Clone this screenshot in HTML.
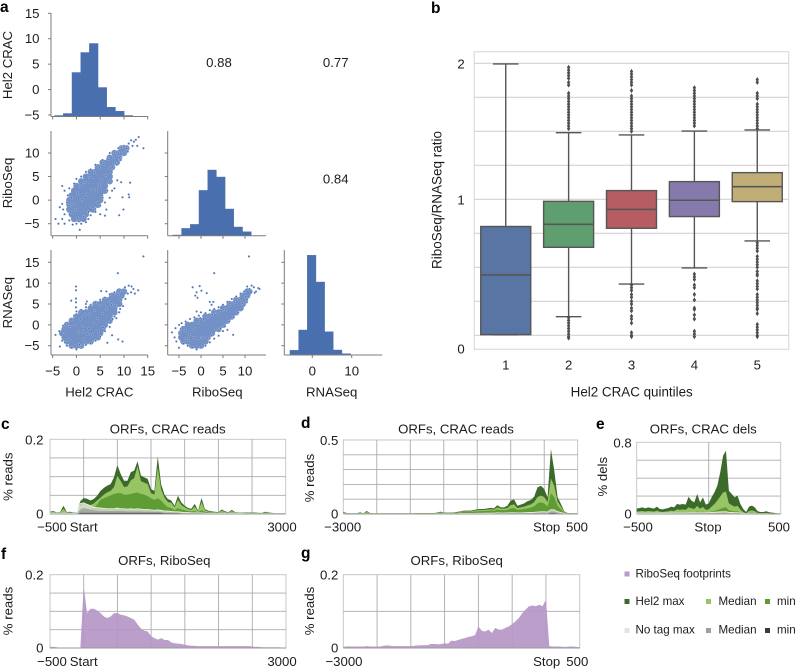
<!DOCTYPE html>
<html lang="en">
<head>
<meta charset="utf-8">
<title>Hel2 CRAC figure</title>
<style>
html,body{margin:0;padding:0;background:#fff;width:795px;height:669px;overflow:hidden}
svg{display:block;font-family:"Liberation Sans",sans-serif;fill:#1c1c1c}
text{font-size:13.2px}
.letter{font-size:15.5px;font-weight:bold;fill:#000}
</style>
</head>
<body>
<svg id="fig" width="795" height="669" viewBox="0 0 795 669" xmlns="http://www.w3.org/2000/svg">
  <rect width="795" height="669" fill="#fff"/>
  <g id="panel-a"></g>
  <g id="panel-b" style="font-size:13.4px"></g>
  <g id="panel-c"></g>
  <g id="panel-d"></g>
  <g id="panel-e"></g>
  <g id="panel-f"></g>
  <g id="panel-g"></g>
  <text class="letter" x="0" y="12">a</text>
  <text class="letter" x="431" y="13">b</text>
  <text class="letter" x="1" y="429">c</text>
  <text class="letter" x="301" y="428">d</text>
  <text class="letter" x="596" y="429">e</text>
  <text class="letter" x="1" y="559">f</text>
  <text class="letter" x="301" y="558">g</text>
  <g id="legend">
    <rect x="624.5" y="571.5" width="5" height="5" fill="#b99aca"/>
    <text x="635.5" y="574" dominant-baseline="central" style="font-size:11.6px">RiboSeq footprints</text>
    <rect x="624.5" y="599" width="5" height="5" fill="#3c6a2b"/>
    <text x="635.5" y="601.5" dominant-baseline="central" style="font-size:11.6px">Hel2 max</text>
    <rect x="706" y="599" width="5" height="5" fill="#97c566"/>
    <text x="718.5" y="601.5" dominant-baseline="central" style="font-size:11.6px">Median</text>
    <rect x="765" y="599" width="5" height="5" fill="#5f9d34"/>
    <text x="777" y="601.5" dominant-baseline="central" style="font-size:11.6px">min</text>
    <rect x="624.5" y="628" width="5" height="5" fill="#e3e3e3"/>
    <text x="635.5" y="630" dominant-baseline="central" style="font-size:11.6px">No tag max</text>
    <rect x="706" y="628" width="5" height="5" fill="#a0a0a0"/>
    <text x="718.5" y="630" dominant-baseline="central" style="font-size:11.6px">Median</text>
    <rect x="765" y="628" width="5" height="5" fill="#3a3a3a"/>
    <text x="777" y="630" dominant-baseline="central" style="font-size:11.6px">min</text>
  </g>
</svg>
<script>
/* ---------- panel a data ---------- */
const pairNames = ['Hel2 CRAC','RiboSeq','RNASeq'];
const helCounts = [10,30,440,640,730,290,93,53,10];
const riboCounts = [7,73,113,453,657,587,267,87,40];
const rnaCounts = [47,250,997,730,233,50,13];
const helBinStart = -4.6;
const helBinWidth = 1.83;
const riboBinStart = -6.4;
const riboBinWidth = 1.98;
const rnaBinStart = -5.67;
const rnaBinWidth = 2.2;
const corrHelRibo = '0.88';
const corrHelRna = '0.77';
const corrRiboRna = '0.84';
const helTicks = [-5,0,5,10,15];
const riboTicksX = [-5,0,5,10];
const rnaTicksX = [0,10];
const helTicksY = [-5,0,5,10,15];
const riboTicksY = [-5,0,5,10];
const rnaTicksY = [-5,0,5,10,15];

const coreHelRibo = [[-0.5,-4],[0.5,-4],[1.5,-4],[-1,-3],[0,-3],[1,-3],[2,-3],[-1.5,-2],[-0.5,-2],[0.5,-2],[1.5,-2],[2.5,-2],[3.5,-2],[-1.5,-1],[-0.5,-1],[0.5,-1],[1.5,-1],[2.5,-1],[3.5,-1],[4.5,-1],[-1.5,0],[-0.5,0],[0.5,0],[1.5,0],[2.5,0],[3.5,0],[4.5,0],[5,0],[-1,1],[0,1],[1,1],[2,1],[3,1],[4,1],[5,1],[-0.5,2],[0.5,2],[1.5,2],[2.5,2],[3.5,2],[4.5,2],[5.5,2],[6,2],[0,3],[1,3],[2,3],[3,3],[4,3],[5,3],[6,3],[1,4],[2,4],[3,4],[4,4],[5,4],[6,4],[7,4],[2,5],[3,5],[4,5],[5,5],[6,5],[7,5],[3,6],[4,6],[5,6],[6,6],[7,6],[4.5,7],[5.5,7],[6.5,7],[7.5,7],[5.5,8],[6.5,8],[7.5,8],[8.5,8],[7,9],[8,9],[9,9],[8,10],[9,10],[10,10],[9.5,11],[10.5,11]];
const pointsHelRibo = [[13.1,13.4],[14.1,11],[12.1,12.4],[11.5,12.7],[12.5,12.8],[11,12],[10.5,11],[11.8,11.5],[12.8,11.5],[10,11.5],[9.5,11.2],[8.8,11],[8,10.2],[9,9],[10,10],[10.8,10.3],[7,10],[6.5,8.8],[5.5,8.5],[7.5,7],[8.5,7.5],[9.3,8.5],[4,7.5],[3,6.5],[2,6],[1,5],[0,4.5],[-0.5,3.5],[-1.5,2.5],[-3,3],[-2.5,2],[-1.8,1],[-2,-0.5],[-3,-0.8],[-3.5,-1.5],[-2.8,-2],[-1.5,-1.2],[-1,0.5],[-1.2,-2.5],[-2.5,-3],[-3,-4],[-4.4,-4],[-3.8,-5],[-2.5,-5],[-1.5,-4.3],[-0.8,-5.2],[0,-5],[0.7,-6.3],[0.5,-4.5],[1,-5],[2,-4.7],[2.5,-4],[1.5,-3.5],[3,-3.2],[4,-2.5],[5,-3],[6,-3.3],[6.3,-2],[5,-1.2],[6,-0.5],[7,0.5],[7.5,2],[8,2.5],[8.6,4.2],[9.4,3.8],[11.3,3.7],[11.1,0.6],[9.7,0.6],[9.9,-2],[9,-3.2],[11,1.2],[7,4],[6.5,2],[5.5,0.5],[4.5,-0.5],[3.5,-1.5],[2.5,-2.5],[0.3,-3.8],[-0.2,-2],[-0.7,-1],[0.2,1.5],[0.8,3],[1.8,3.8],[2.8,4.8],[3.8,5.8],[4.8,6.8],[5.8,7.6],[6.8,8.6],[7.8,9],[8.8,10],[6.2,5.2],[7.2,6.8],[8.2,7.8],[3.2,2.2],[4.2,2.2],[2.2,1.2],[1.2,0.2],[5.2,4.2],[4.8,3.2]];

const coreHelRna = [[-1,-5],[0,-5],[1,-5],[-2,-4],[-1,-4],[0,-4],[1,-4],[2,-4],[3,-4],[-2.5,-3],[-1.5,-3],[-0.5,-3],[0.5,-3],[1.5,-3],[2.5,-3],[3.5,-3],[4.5,-3],[-3,-2],[-2,-2],[-1,-2],[0,-2],[1,-2],[2,-2],[3,-2],[4,-2],[5,-2],[-2.5,-1],[-1.5,-1],[-0.5,-1],[0.5,-1],[1.5,-1],[2.5,-1],[3.5,-1],[4.5,-1],[5.5,-1],[-2,0],[-1,0],[0,0],[1,0],[2,0],[3,0],[4,0],[5,0],[6,0],[-1,1],[0,1],[1,1],[2,1],[3,1],[4,1],[5,1],[6,1],[7,1],[0,2],[1,2],[2,2],[3,2],[4,2],[5,2],[6,2],[7,2],[1,3],[2,3],[3,3],[4,3],[5,3],[6,3],[7,3],[8,3],[3,4],[4,4],[5,4],[6,4],[7,4],[8,4],[4,5],[5,5],[6,5],[7,5],[8,5],[9,5],[6,6],[7,6],[8,6],[9,6],[7.5,7],[8.5,7],[9.5,7],[9,8],[10,8]];
const pointsHelRna = [[14.1,16.4],[8.7,12.4],[-0.1,9.2],[-0.1,8.3],[-0.1,6.3],[-0.1,5.4],[-0.1,4.2],[6.3,8],[-1.1,5.8],[5.2,8.1],[13,8.3],[12.3,7.5],[11.6,9.2],[10.2,9],[11,9.4],[11.5,7.8],[10.8,7.5],[12,8.6],[2,5],[2.2,5.6],[9.7,-4],[6.5,-4.3],[8.8,-3.5],[7.5,-2.5],[-4.4,-2.4],[-3.5,-5.2],[-2,-5],[-1,-5.5],[0,-5.9],[1,-5.2],[-0.3,-5],[-3,-3.8],[-3.6,-1.5],[-2.8,-0.2],[-1.8,0.2],[-1,1.2],[-0.5,2.2],[0,3.2],[1,3.6],[2,4.2],[3,4.8],[4,5.3],[5,6],[6,6.5],[7,7.3],[8,7.8],[9,8],[10,8.2],[10.3,6.2],[9.8,4.5],[9,3],[8,2],[7,-0.5],[6,-1.5],[5,-2.8],[4,-3.8],[3,-4.4],[2,-4.8],[-2.5,-2],[-1.5,-3.5],[-2.4,-4.2],[0.6,-4.8],[1.6,-3.6],[3.4,-2.4],[4.6,-1.6],[5.6,-0.6],[6.6,0.6],[7.6,1.4],[8.4,1.6],[9.2,3.8],[9.4,6],[8.8,7.2],[6.8,5.6],[5.8,5],[4.8,4.6],[3.8,3.4],[2.8,2.6],[1.8,2.4],[0.8,1.4],[-0.4,-0.2],[-1.4,-0.4],[1.4,-0.4],[2.6,-0.8],[3.6,0.4],[4.4,1.6],[5.4,2.8],[6.4,3.8],[7.4,4.8],[8.2,4.6],[0.4,-1.6],[1.4,-1.6],[2.4,-2.2]];

const coreRiboRna = [[-2,-5],[-1,-5],[0,-5],[-4,-4],[-3,-4],[-2,-4],[-1,-4],[0,-4],[1,-4],[-4.5,-3],[-3.5,-3],[-2.5,-3],[-1.5,-3],[-0.5,-3],[0.5,-3],[1.5,-3],[-4.5,-2],[-3.5,-2],[-2.5,-2],[-1.5,-2],[-0.5,-2],[0.5,-2],[1.5,-2],[2.5,-2],[-4,-1],[-3,-1],[-2,-1],[-1,-1],[0,-1],[1,-1],[2,-1],[3,-1],[4,-1],[-3,0],[-2,0],[-1,0],[0,0],[1,0],[2,0],[3,0],[4,0],[5,0],[-1,1],[0,1],[1,1],[2,1],[3,1],[4,1],[5,1],[6,1],[1,2],[2,2],[3,2],[4,2],[5,2],[6,2],[7,2],[3,3],[4,3],[5,3],[6,3],[7,3],[8,3],[5,4],[6,4],[7,4],[8,4],[9,4],[6.5,5],[7.5,5],[8.5,5],[9.5,5],[8,6],[9,6],[10,6],[9.5,7],[10.5,7],[10.5,8],[11,8]];
const pointsRiboRna = [[10.9,16.4],[3,12.4],[-1.9,9],[-0.3,9.3],[0.1,8.2],[-1.3,7],[1.3,7.6],[-1,7.8],[-0.8,6.5],[2,5.5],[2.4,4.8],[2.8,5.5],[12.5,8],[13,8.8],[12,9],[12.2,7.7],[13.3,8.6],[11.5,9.4],[11,8.6],[10.5,9.2],[-6.6,-1.8],[-5.6,-4],[-6,-3],[-5,-5.5],[-5.8,-0.8],[-5,0],[-4.4,0.4],[-3.5,0.8],[-2.5,1.4],[-1.5,1.8],[-0.5,2.2],[-1,3.2],[0,3],[1,2.8],[2,3.5],[3,3.8],[4,4.2],[5,4.8],[6,5.5],[7,6.2],[8,6.8],[9,7.5],[9.8,8],[7.3,-2.4],[6,-1.2],[5,-1.5],[4,-2.6],[3,-3.3],[2,-4.2],[1,-5],[0,-5.3],[-1,-5.9],[-2,-5.4],[-3,-5],[-4,-4.5],[-4.8,-2.2],[-4.6,-1],[-3.4,-3.2],[-2.6,-2.4],[-1.4,-1],[-0.6,0.6],[0.6,1.4],[1.6,1.8],[2.6,2.4],[3.6,2.8],[4.6,3.4],[5.6,3.6],[6.6,4.6],[7.6,5.4],[8.6,6],[9.4,5.2],[8.4,3],[7.4,1.8],[6.4,0.8],[5.4,-0.4],[4.4,-0.8],[3.4,-1],[2.4,-2.6],[1.4,-3.2],[0.4,-3],[-0.4,-3.2],[-1.6,-3],[-2.8,-3.8],[-3.6,-1.4],[-0.2,1.6],[10.4,5.4],[10.2,6.8]];

/* ---------- panel b data ---------- */
const quintiles = ['1','2','3','4','5'];
const boxQ1 = [0.005,0.647,0.787,0.873,0.983];
const boxMedian = [0.444,0.816,0.926,0.993,1.093];
const boxQ3 = [0.80,0.985,1.064,1.13,1.196];
const whiskerLow = [0.005,0.137,0.377,0.495,0.694];
const whiskerHigh = [1.995,1.49,1.473,1.502,1.51];
const boxFill = ['#5975a4','#5f9e6e','#b55d60','#857aab','#c1ae77'];
const fliers1 = [];
const fliers2 = [1.97,1.95,1.93,1.91,1.89,1.86,1.84,1.78,1.76,1.74,1.72,1.7,1.68,1.66,1.64,1.62,1.6,1.58,1.56,1.54,1.52,0.13,0.11,0.09,0.07,0.05,0.03,0.01,-0.01,-0.02];
const fliers3 = [1.94,1.92,1.9,1.88,1.86,1.84,1.8,1.76,1.74,1.72,1.7,1.68,1.66,1.64,1.62,1.6,1.58,1.56,1.54,1.52,1.5,0.37,0.35,0.33,0.3,0.28,0.25,0.23,0.2,0.18,0.14,0.12,0.09,0.02,0,-0.01];
const fliers4 = [1.82,1.8,1.78,1.76,1.74,1.72,1.7,1.68,1.66,1.64,1.62,1.6,1.58,1.56,1.54,0.45,0.43,0.41,0.37,0.35,0.3,0.26,0.2,0.19,0.15,0.12,0.03,0.01,-0.01];
const fliers5 = [1.88,1.86,1.78,1.76,1.74,1.7,1.68,1.66,1.64,1.62,1.6,1.58,1.56,1.54,1.52,0.68,0.66,0.64,0.62,0.58,0.56,0.54,0.52,0.5,0.47,0.45,0.44,0.4,0.38,0.36,0.34,0.3,0.28,0.26,0.24,0.22,0.2,0.19,0.16,0.08,0.06,0.04,0.02,0,-0.01];
const boxGridValues = [0,0.25,0.5,0.75,1,1.25,1.5,1.75,2];
const boxTickValues = [0,1,2];

/* ---------- panels c-g data (reads in thousandths) ---------- */
const cMax = [6,8,4,5,22,5,6,4,4,34,43,41,36,40,49,62,70,76,80,98,131,107,89,89,112,116,141,103,98,94,67,62,154,80,52,40,36,22,49,31,22,16,14,27,9,43,13,9,7,6,5,12,7,5,11,5,4,4,4,4,4,4,3,3,6,4,3,2,2,2,2];
const cMedian = [5,6,3,4,14,4,4,3,3,22,28,27,24,28,36,44,52,58,62,72,102,88,72,74,90,96,128,88,84,80,56,52,125,66,44,32,30,18,38,24,18,13,11,20,7,32,10,7,5,5,4,9,5,4,8,4,3,3,3,3,3,3,2,2,4,3,2,2,1,1,1];
const cMin = [3,3,2,2,6,2,2,2,2,8,10,10,12,16,26,38,42,46,50,54,56,56,52,52,54,56,58,54,52,48,42,38,42,36,26,18,16,10,16,12,10,8,7,8,5,10,6,5,4,4,3,4,3,3,4,3,2,2,2,2,2,2,2,2,2,2,1,1,1,1,1];
const cTagMax = [2,2,2,2,3,2,2,2,2,28,30,26,22,18,17,16,15,14,14,14,16,14,14,13,14,13,14,13,12,12,11,10,11,10,8,8,7,6,6,5,4,4,3,3,3,3,2,2,2,2,2,2,2,2,2,2,2,2,1,1,1,1,1,1,1,1,1,1,1,1,1];
const cTagMedian = [1,1,1,1,1,1,1,1,1,12,16,14,12,10,9,8,8,8,8,8,8,8,8,7,7,7,7,7,6,6,6,6,6,5,4,4,4,3,3,3,2,2,2,2,2,2,1,1,1,1,1,1,1,1,1,1,1,1,1,1,1,1,1,1,1,1,1,1,1,1,1];
const cTagMin = [0,0,0,0,0,0,0,0,0,3,3,3,3,3,3,3,3,3,3,3,3,3,3,3,3,3,3,3,3,3,3,3,3,3,2,2,2,2,2,1,1,1,1,1,1,1,1,1,1,1,0,0,0,0,0,0,0,0,0,0,0,0,0,0,0,0,0,0,0,0,0];

const dMax = [14,7,5,5,5,11,5,20,7,5,5,5,5,5,5,5,5,5,5,5,5,5,7,7,7,7,7,7,9,16,9,9,9,11,14,18,23,23,23,27,32,34,34,38,41,38,59,45,45,56,90,99,56,63,72,86,95,117,180,191,169,113,439,293,113,68,18,7,5,5,5];
const dMedian = [9,5,4,4,4,7,4,14,5,4,4,4,4,4,4,4,4,4,4,4,4,4,5,5,5,5,5,5,7,12,7,7,7,9,11,14,18,18,18,22,25,27,27,30,32,30,45,36,36,40,60,65,40,45,50,58,65,80,115,124,115,80,241,190,85,50,14,5,4,4,4];
const dMin = [5,3,2,2,2,4,2,9,3,2,2,2,2,2,2,2,2,2,2,2,2,2,3,3,3,3,3,3,5,9,5,5,5,7,9,11,14,14,14,16,18,20,20,22,24,22,30,26,26,28,38,40,28,30,34,38,42,52,72,79,72,50,140,115,55,32,9,3,2,2,2];
const dTagMax = [3,2,2,2,2,2,2,3,2,2,2,2,2,2,2,2,2,2,2,2,2,2,2,2,2,2,2,2,3,3,3,3,3,3,3,4,4,4,4,4,5,5,5,6,6,6,9,7,7,8,9,9,8,8,9,10,11,12,14,15,15,14,30,28,16,10,4,2,2,2,2];
const dTagMedian = [1,1,1,1,1,1,1,1,1,1,1,1,1,1,1,1,1,1,1,1,1,1,1,1,1,1,1,1,2,2,2,2,2,2,2,2,2,2,2,2,3,3,3,3,3,3,5,4,4,4,5,5,5,5,5,6,6,7,8,9,9,8,18,16,10,6,2,1,1,1,1];
const dTagMin = [0,0,0,0,0,0,0,0,0,0,0,0,0,0,0,0,0,0,0,0,0,0,0,0,0,0,0,0,1,1,1,1,1,1,1,1,1,1,1,1,1,1,1,1,1,1,2,2,2,2,2,2,2,2,2,2,2,3,3,3,3,3,6,6,3,2,1,0,0,0,0];

const eMax = [60,67,74,63,74,67,60,82,56,52,60,67,82,74,112,104,112,104,193,149,130,223,130,186,104,119,186,242,316,465,651,707,260,223,186,205,112,56,22,82,93,74,30,22,22,30,19,15,11,7,7];
const eMedian = [26,30,34,28,34,30,27,38,26,22,27,30,38,34,51,46,51,46,75,64,56,90,58,79,45,52,82,112,150,195,240,250,120,98,82,90,49,22,9,34,41,30,12,9,9,12,8,6,5,3,3];
const eMin = [10,12,14,11,14,12,10,14,10,8,10,11,14,12,18,17,18,17,24,21,20,28,21,26,18,21,28,35,45,56,70,77,42,35,29,31,18,8,4,11,14,10,5,4,4,5,3,2,2,2,2];
const eTagMax = [10,10,10,10,10,10,10,10,10,10,10,10,12,12,12,12,12,12,14,14,14,14,14,14,14,16,18,20,22,24,26,26,20,18,16,16,12,8,6,6,6,6,4,4,4,4,3,3,3,3,3];
const eTagMedian = [5,5,5,5,5,5,5,5,5,5,5,5,6,6,6,6,6,6,7,7,7,7,7,7,7,8,9,10,11,12,13,13,10,9,8,8,6,4,3,3,3,3,2,2,2,2,2,2,2,2,2];
const eTagMin = [2,2,2,2,2,2,2,2,2,2,2,2,2,2,2,2,2,2,3,3,3,3,3,3,3,3,3,3,4,4,4,4,3,3,3,3,2,2,1,1,1,1,1,1,1,1,1,1,1,1,1];

const fRibo = [3,3,2,1,1,1,1,1,1,1,168,95,107,107,102,95,86,82,86,95,95,91,89,86,82,77,64,53,47,45,32,27,23,27,22,22,15,13,12,11,9,7,6,6,5,5,5,5,5,5,5,5,5,5,5,5,5,5,5,5,4,3,3,2,2,2,2,2,2,1,1];
const gRibo = [3,4,4,4,4,4,4,5,4,4,4,4,6,7,6,5,5,5,5,5,5,6,7,7,8,8,11,11,10,11,13,12,20,19,22,25,27,30,32,35,59,47,45,50,41,55,50,50,55,59,65,73,82,95,105,114,116,114,118,114,132,5,4,4,4,3,3,4,4,3,2];

/* ---------- helpers ---------- */
const SVG_NS = 'http://www.w3.org/2000/svg';
function linear(d0, d1, r0, r1) {
  return function (v) { return r0 + (v - d0) * (r1 - r0) / (d1 - d0); };
}
function make(tag, attrs, parent) {
  const el = document.createElementNS(SVG_NS, tag);
  for (const k in attrs) el.setAttribute(k, attrs[k]);
  parent.appendChild(el);
  return el;
}
function label(parent, str, x, y, anchor, name, rotate) {
  const el = make('text', {x: x, y: y, 'text-anchor': anchor, 'dominant-baseline': 'central'}, parent);
  if (rotate) el.setAttribute('transform', 'rotate(-90 ' + x + ' ' + y + ')');
  el.textContent = str;
  
  
  return el;
}
function segment(parent, x1, y1, x2, y2, color, width, name) {
  const el = make('line', {x1: x1, y1: y1, x2: x2, y2: y2, stroke: color, 'stroke-width': width}, parent);
  
  
  return el;
}
function fmt(v) { return v < 0 ? '\u2212' + Math.abs(v) : String(v); }

/* ---------- panel a ---------- */
const panelA = document.getElementById('panel-a');
const colX = [linear(-5,15,52.7,147.7), linear(-5,10,179,245), linear(0,10,312.3,351.7)];
const rowY = [linear(-5,15,115,13.3), linear(-5,10,223.7,153), linear(-5,15,345.7,262.3)];
const colExtent = [[51,148],[167.7,266],[284.3,382.3]];
const rowExtent = [[13,116.5],[131,235.7],[250,355]];
const colTicks = [helTicks, riboTicksX, rnaTicksX];
const rowTicks = [helTicksY, riboTicksY, rnaTicksY];
const spine = '#7c7c7c';

function drawAxes(row, col) {
  const cx = colExtent[col], ry = rowExtent[row];
  segment(panelA, cx[0], ry[0], cx[0], ry[1], spine, 1, 'y-axis-line');
  segment(panelA, cx[0], ry[1], cx[1], ry[1], spine, 1, 'x-axis-line');
  rowTicks[row].forEach(function (t) {
    const y = rowY[row](t);
    segment(panelA, cx[0] - 3, y, cx[0], y, spine, 1, 'y-tick');
    if (col === 0) label(panelA, fmt(t), 39.5, y, 'end', 'y-tick-label');
  });
  colTicks[col].forEach(function (t) {
    const x = colX[col](t);
    segment(panelA, x, ry[1], x, ry[1] + 3, spine, 1, 'x-tick');
    if (row === 2) label(panelA, fmt(t), x, 371, 'middle', 'x-tick-label');
  });
}
function drawHist(col, counts, start, width) {
  const base = rowExtent[col][1];
  counts.forEach(function (c, i) {
    const x0 = colX[col](start + i * width);
    const x1 = colX[col](start + (i + 1) * width);
    const h = c * 0.1;
    const bar = make('rect', {x: x0, y: base - h, width: x1 - x0, height: h, fill: '#4a6fae', stroke: '#4a6fae', 'stroke-width': 0.4}, panelA);
    
    
  });
}
function drawScatter(row, col, core, points) {
  const sx = colX[col], sy = rowY[row];
  core.forEach(function (p) {
    const blob = make('circle', {cx: sx(p[0]), cy: sy(p[1]), r: 3.2, fill: '#7391c6'}, panelA);
    
    
  });
  points.forEach(function (p) {
    const dot = make('circle', {cx: sx(p[0]), cy: sy(p[1]), r: 1.15, fill: '#4c72b0', stroke: '#fff', 'stroke-width': 0.25}, panelA);
    
    
  });
}
drawHist(0, helCounts, helBinStart, helBinWidth);
drawHist(1, riboCounts, riboBinStart, riboBinWidth);
drawHist(2, rnaCounts, rnaBinStart, rnaBinWidth);
drawScatter(1, 0, coreHelRibo, pointsHelRibo);
drawScatter(2, 0, coreHelRna, pointsHelRna);
drawScatter(2, 1, coreRiboRna, pointsRiboRna);
[[0,0],[1,0],[1,1],[2,0],[2,1],[2,2]].forEach(function (rc) { drawAxes(rc[0], rc[1]); });
label(panelA, pairNames[0], 7.5, 65, 'middle', 'y-axis-title-hel2', true);
label(panelA, pairNames[1], 7.5, 183, 'middle', 'y-axis-title-riboseq', true);
label(panelA, pairNames[2], 7.5, 302.7, 'middle', 'y-axis-title-rnaseq', true);
label(panelA, pairNames[0], 99.3, 392, 'middle', 'x-axis-title-hel2');
label(panelA, pairNames[1], 217.3, 392, 'middle', 'x-axis-title-riboseq');
label(panelA, pairNames[2], 331.7, 392, 'middle', 'x-axis-title-rnaseq');
label(panelA, corrHelRibo, 219, 62.3, 'middle', 'correlation-hel2-riboseq');
label(panelA, corrHelRna, 335.7, 62.3, 'middle', 'correlation-hel2-rnaseq');
label(panelA, corrRiboRna, 335.7, 179, 'middle', 'correlation-riboseq-rnaseq');

/* ---------- panel b ---------- */
const panelB = document.getElementById('panel-b');
const bY = linear(0, 2, 335.3, 63.3);
const bLeft = 474.3, bRight = 788.7, bTop = 51.7, bBottom = 349.3;
const bBand = (bRight - bLeft) / quintiles.length;
function bX(i) { return bLeft + (i + 0.5) * bBand; }
const bFrame = make('rect', {x: bLeft, y: bTop, width: bRight - bLeft, height: bBottom - bTop, fill: 'none', stroke: '#dcdcdc', 'stroke-width': 1.2}, panelB);


boxGridValues.forEach(function (v) {
  segment(panelB, bLeft, bY(v), bRight, bY(v), '#d2d2d2', 1.2, 'grid-line');
});
const allFliers = [fliers1, fliers2, fliers3, fliers4, fliers5];
const lineColor = '#565656';
quintiles.forEach(function (q, i) {
  const cx = bX(i);
  segment(panelB, cx, bY(boxQ3[i]), cx, bY(whiskerHigh[i]), lineColor, 1.4, 'whisker-upper');
  segment(panelB, cx, bY(boxQ1[i]), cx, bY(whiskerLow[i]), lineColor, 1.4, 'whisker-lower');
  segment(panelB, cx - 12.8, bY(whiskerHigh[i]), cx + 12.8, bY(whiskerHigh[i]), lineColor, 1.4, 'whisker-cap-upper');
  segment(panelB, cx - 12.8, bY(whiskerLow[i]), cx + 12.8, bY(whiskerLow[i]), lineColor, 1.4, 'whisker-cap-lower');
  const box = make('rect', {x: cx - 25, y: bY(boxQ3[i]), width: 50, height: bY(boxQ1[i]) - bY(boxQ3[i]), fill: boxFill[i], stroke: lineColor, 'stroke-width': 1.4}, panelB);
  
  
  segment(panelB, cx - 25, bY(boxMedian[i]), cx + 25, bY(boxMedian[i]), lineColor, 1.6, 'median-line');
  allFliers[i].forEach(function (v) {
    const y = bY(v);
    const d = make('polygon', {points: cx + ',' + (y - 2.6) + ' ' + (cx + 1.7) + ',' + y + ' ' + cx + ',' + (y + 2.6) + ' ' + (cx - 1.7) + ',' + y, fill: '#4e4e4e'}, panelB);
    
    
  });
  label(panelB, q, cx, 365, 'middle', 'x-tick-label');
});
boxTickValues.forEach(function (v) {
  label(panelB, String(v), 461, v === 0 ? 349 : bY(v) + 0.5, 'middle', 'y-tick-label');
});
label(panelB, 'RiboSeq/RNASeq ratio', 437, 200, 'middle', 'y-axis-title', true).style.fontSize = '13.5px';
label(panelB, 'Hel2 CRAC quintiles', 631.7, 392, 'middle', 'x-axis-title').style.fontSize = '13.4px';

/* ---------- panels c-g ---------- */
const greens = ['#3c6a2b','#97c566','#5f9d34'];
const greys = ['#e0e2dc','#a0a0a0','#3a3a3a'];
function drawMetagene(cfg) {
  const g = document.getElementById(cfg.id);
  const sx = linear(cfg.xStart, cfg.xEnd, cfg.left, cfg.right);
  const sy = linear(0, cfg.yMax, cfg.bottom, cfg.top);
  const bg = make('rect', {x: cfg.left, y: cfg.top, width: cfg.right - cfg.left, height: cfg.bottom - cfg.top, fill: 'none', stroke: '#c2c2c2', 'stroke-width': 0.9}, g);
  
  
  cfg.hGrid.forEach(function (v) {
    segment(g, cfg.left, sy(v), cfg.right, sy(v), '#ababab', 0.9, 'horizontal-grid-line');
  });
  cfg.vGrid.forEach(function (v) {
    segment(g, sx(v), cfg.top, sx(v), cfg.bottom, '#ababab', 0.9, 'vertical-grid-line');
  });
  cfg.series.forEach(function (s) {
    let d = 'M' + sx(cfg.xStart) + ' ' + sy(0);
    s.values.forEach(function (v, i) {
      d += 'L' + sx(cfg.xStart + i * cfg.step).toFixed(2) + ' ' + sy(v).toFixed(2);
    });
    d += 'L' + sx(cfg.xEnd) + ' ' + sy(0) + 'Z';
    const area = make('path', {d: d, fill: s.color}, g);
    if (s.opacity) area.setAttribute('fill-opacity', s.opacity);
    if (s.edge) { area.setAttribute('stroke', s.edge); area.setAttribute('stroke-width', 0.7); }
    
    
  });
  segment(g, cfg.left, cfg.bottom, cfg.right, cfg.bottom, '#9a9a9a', 1, 'x-axis-line');
  label(g, cfg.title, cfg.titleX, cfg.titleY, 'middle', 'panel-title');
  label(g, cfg.yTitle, cfg.yTitleX, cfg.yTitleY, 'middle', 'y-axis-title', true);
  label(g, cfg.yTopLabel, cfg.yLabelX, cfg.top + 0.5, 'end', 'y-tick-label-top');
  label(g, '0', cfg.yLabelX, cfg.bottom, 'end', 'y-tick-label-zero');
  cfg.xLabels.forEach(function (t, i) {
    label(g, t, cfg.xLabelX[i], cfg.xLabelY, 'middle', 'x-tick-label');
  });
}
function greenSeries(mx, md, mn, tx, tm, tn) {
  return [
    {values: mx, color: greens[0], name: 'area-hel2-max'},
    {values: md, color: greens[1], name: 'area-hel2-median'},
    {values: mn, color: greens[2], name: 'area-hel2-min'},
    {values: tx, color: greys[0], name: 'area-notag-max', opacity: 0.75, edge: '#f2f4ee'},
    {values: tm, color: greys[1], name: 'area-notag-median', opacity: 0.8},
    {values: tn, color: greys[2], name: 'area-notag-min'}
  ];
}
const startGrid = [0,500,1000,1500,2000,2500];
const stopGrid = [-2500,-2000,-1500,-1000,-500,0];
drawMetagene({id:'panel-c', xStart:-500, xEnd:3000, step:50, left:50, right:285.7, top:439.3, bottom:514, yMax:200,
  hGrid:[50,100,150], vGrid:startGrid, series:greenSeries(cMax,cMedian,cMin,cTagMax,cTagMedian,cTagMin),
  title:'ORFs, CRAC reads', titleX:167.7, titleY:429, yTitle:'% reads', yTitleX:8, yTitleY:476.7, yTopLabel:'0.2', yLabelX:43.5,
  xLabels:['\u2212500','Start','3000'], xLabelX:[52,83.7,282], xLabelY:527});
drawMetagene({id:'panel-d', xStart:-3000, xEnd:500, step:50, left:343.3, right:577.7, top:440, bottom:514, yMax:500,
  hGrid:[100,200,300,400], vGrid:stopGrid, series:greenSeries(dMax,dMedian,dMin,dTagMax,dTagMedian,dTagMin),
  title:'ORFs, CRAC reads', titleX:456, titleY:429, yTitle:'% reads', yTitleX:309.3, yTitleY:478, yTopLabel:'0.5', yLabelX:338.3,
  xLabels:['\u22123000','Stop','500'], xLabelX:[342.7,546.7,577], xLabelY:527});
drawMetagene({id:'panel-e', xStart:-500, xEnd:500, step:20, left:636.7, right:780.7, top:442.3, bottom:514, yMax:800,
  hGrid:[200,400,600], vGrid:[0], series:greenSeries(eMax,eMedian,eMin,eTagMax,eTagMedian,eTagMin),
  title:'ORFs, CRAC dels', titleX:703.3, titleY:429, yTitle:'% dels', yTitleX:602.3, yTitleY:476.7, yTopLabel:'0.8', yLabelX:631.7,
  xLabels:['\u2212500','Stop','500'], xLabelX:[638,708,779], xLabelY:527});
drawMetagene({id:'panel-f', xStart:-500, xEnd:3000, step:50, left:50, right:286, top:574.7, bottom:648, yMax:200,
  hGrid:[50,100,150], vGrid:startGrid, series:[{values:fRibo, color:'#b596c6', name:'area-riboseq-footprints', opacity:0.92}],
  title:'ORFs, RiboSeq', titleX:164.3, titleY:560.7, yTitle:'% reads', yTitleX:8, yTitleY:611, yTopLabel:'0.2', yLabelX:43.5,
  xLabels:['\u2212500','Start','3000'], xLabelX:[52,83.7,282], xLabelY:661.7});
drawMetagene({id:'panel-g', xStart:-3000, xEnd:500, step:50, left:343.3, right:579.7, top:574.7, bottom:648, yMax:200,
  hGrid:[100], vGrid:stopGrid, series:[{values:gRibo, color:'#b596c6', name:'area-riboseq-footprints', opacity:0.92}],
  title:'ORFs, RiboSeq', titleX:456.7, titleY:560.7, yTitle:'% reads', yTitleX:309.3, yTitleY:611, yTopLabel:'0.2', yLabelX:338.3,
  xLabels:['\u22123000','Stop','500'], xLabelX:[344,546.7,577.3], xLabelY:661.7});
</script>
</body>
</html>
